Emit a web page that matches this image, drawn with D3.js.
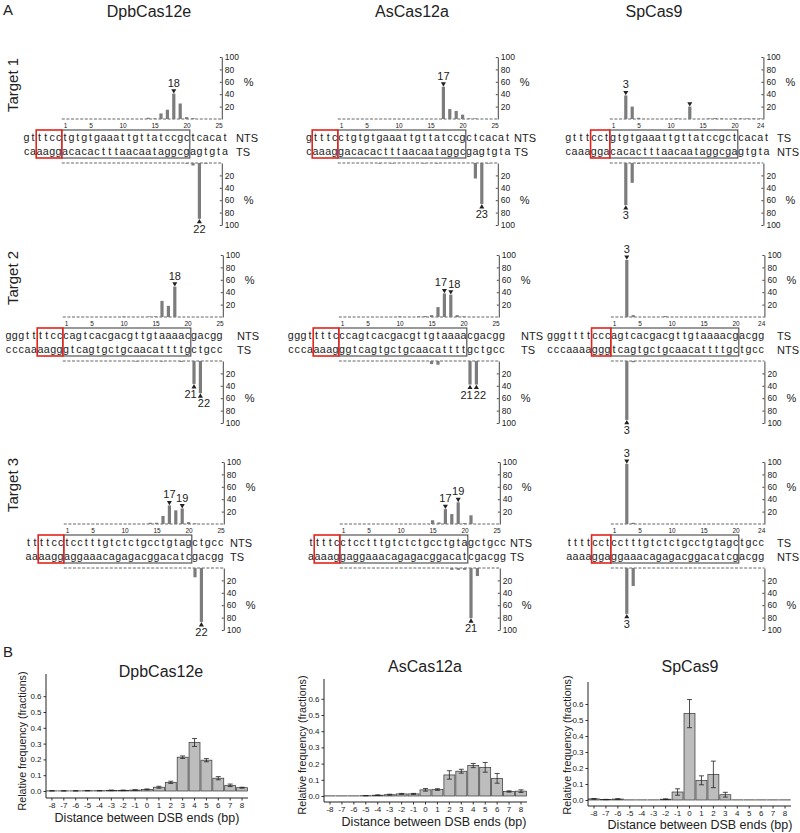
<!DOCTYPE html>
<html>
<head>
<meta charset="utf-8">
<script src="https://cdn.jsdelivr.net/npm/d3@7"></script>
<style>
  body { margin: 0; background: #fff; }
  svg { display: block; }
  text { font-family: Arial, "Liberation Sans", sans-serif; fill: #222; }
</style>
</head>
<body>
<svg id="fig" width="800" height="833"></svg>
<script>
// ---------------- DATA ----------------
const enzymes = ["DpbCas12e", "AsCas12a", "SpCas9"];
const targets = ["Target 1", "Target 2", "Target 3"];

// top strand of each target (bottom strand = complement)
const seqT1 = "gtttcctgtgtgaaattgttatccgctcacat";
const seqT2 = "gggttttcccagtcacgacgttgtaaaacgacgg";
const seqT3 = "ttttcctcctttgtctctgcctgtagctgcc";
// index in the string of protospacer position 1, per target x enzyme
const spacerStart = [[6, 5, 7], [9, 8, 10], [6, 5, 7]];
const pamLen = [4, 4, 3];
const axisMax = [25, 25, 24];
const axisTicks = [[1, 5, 10, 15, 20, 25], [1, 5, 10, 15, 20, 25], [1, 5, 10, 15, 20, 24]];
const strandLabels = [["NTS", "TS"], ["NTS", "TS"], ["TS", "NTS"]];
const pctTicks = [20, 40, 60, 80, 100];

// cleavage frequency (%) at each position [position, %]
const t1DpbTop = [[14, 2], [15, 1], [16, 9], [17, 15], [18, 41], [19, 25], [20, 3], [21, 1.5]];
const t1DpbBot = [[20, 1], [21, 4], [22, 90], [23, 1.5]];
const t1AsTop = [[17, 52], [18, 16], [19, 13], [20, 7], [21, 1], [22, 1]];
const t1AsBot = [[7, 1], [9, 1], [14, 1], [16, 1], [22, 25], [23, 66], [24, 1]];
const t1SpTop = [[3, 38], [4, 20], [5, 2], [11, 1], [13, 20], [16, 1], [17, 1.5], [18, 1], [20, 1], [21, 1], [22, 1], [23, 1], [24, 1]];
const t1SpBot = [[3, 68], [4, 32], [5, 1.5]];
const t2DpbTop = [[10, 0.8], [14, 0.8], [15, 1], [16, 26], [17, 18], [18, 49]];
const t2DpbBot = [[12, 1], [16, 1], [19, 1.5], [21, 37], [22, 52]];
const t2AsTop = [[10, 1], [13, 1], [14, 1.5], [15, 3], [16, 16], [17, 38], [18, 36], [19, 3], [20, 1]];
const t2AsBot = [[15, 5], [16, 6], [21, 38], [22, 38]];
const t2SpTop = [[3, 92], [4, 3], [9, 1.5]];
const t2SpBot = [[3, 95], [4, 2]];
const t3DpbTop = [[14, 2], [15, 2], [16, 13], [17, 30], [18, 22], [19, 25], [20, 3], [21, 1]];
const t3DpbBot = [[21, 15], [22, 87]];
const t3AsTop = [[15, 6], [16, 2.5], [17, 24], [18, 16], [19, 35], [20, 1.5], [21, 14]];
const t3AsBot = [[18, 3], [19, 3], [20, 3], [21, 81], [22, 13]];
const t3SpTop = [[3, 97], [4, 2]];
const t3SpBot = [[3, 74], [4, 29]];

// B: distance between DSB ends
const dist = [-8, -7, -6, -5, -4, -3, -2, -1, 0, 1, 2, 3, 4, 5, 6, 7, 8];
const dpbFreq = [0.001, 0.001, 0.001, 0.002, 0.002, 0.004, 0.004, 0.006, 0.01, 0.024, 0.055, 0.214, 0.307, 0.195, 0.081, 0.036, 0.021];
const dpbErr  = [0.001, 0.001, 0.001, 0.001, 0.001, 0.002, 0.002, 0.002, 0.003, 0.006, 0.007, 0.008, 0.025, 0.01, 0.01, 0.008, 0.003];
const asFreq  = [0.001, 0.001, 0.001, 0.002, 0.005, 0.008, 0.013, 0.013, 0.038, 0.04, 0.13, 0.153, 0.188, 0.177, 0.109, 0.028, 0.03];
const asErr   = [0, 0, 0, 0.001, 0.002, 0.003, 0.003, 0.003, 0.008, 0.005, 0.026, 0.012, 0.013, 0.03, 0.03, 0.004, 0.008];
const spFreq  = [0.007, 0.003, 0.006, 0.001, 0.001, 0.001, 0.005, 0.05, 0.54, 0.123, 0.16, 0.033, 0.001, 0.001, 0.001, 0.001, 0.001];
const spErr   = [0.002, 0.001, 0.002, 0, 0, 0, 0.002, 0.02, 0.088, 0.028, 0.083, 0.015, 0, 0, 0, 0, 0];
const freqTicks = [0, 0.1, 0.2, 0.3, 0.4, 0.5, 0.6];

// ---------------- PANEL TABLE ----------------
const seqs = [seqT1, seqT2, seqT3];
const panelsA = [
  { row: 0, col: 0, top: t1DpbTop, bot: t1DpbBot, topMark: [[18, "18"]], botMark: [[22, "22"]] },
  { row: 0, col: 1, top: t1AsTop, bot: t1AsBot, topMark: [[17, "17"]], botMark: [[23, "23"]] },
  { row: 0, col: 2, top: t1SpTop, bot: t1SpBot, topMark: [[3, "3"], [13, ""]], botMark: [[3, "3"]] },
  { row: 1, col: 0, top: t2DpbTop, bot: t2DpbBot, topMark: [[18, "18"]], botMark: [[21, "21"], [22, "22"]] },
  { row: 1, col: 1, top: t2AsTop, bot: t2AsBot, topMark: [[17, "17"], [18, "18"]], botMark: [[21, "21"], [22, "22"]] },
  { row: 1, col: 2, top: t2SpTop, bot: t2SpBot, topMark: [[3, "3"]], botMark: [[3, "3"]] },
  { row: 2, col: 0, top: t3DpbTop, bot: t3DpbBot, topMark: [[17, "17"], [19, "19"]], botMark: [[22, "22"]] },
  { row: 2, col: 1, top: t3AsTop, bot: t3AsBot, topMark: [[17, "17"], [19, "19"]], botMark: [[21, "21"]] },
  { row: 2, col: 2, top: t3SpTop, bot: t3SpBot, topMark: [[3, "3"]], botMark: [[3, "3"]] }
];

// ---------------- LAYOUT ----------------
const svg = d3.select("#fig");
const charW = 6.4;          // width of one nucleotide
const pctH = 62;            // pixel height of 100 %
const pos1X = [[65, 341, 613], [66, 342, 614], [67, 343, 614]];
const rowBase = [119, 317, 524];
const strandLabelX = [[236, 514, 777], [237, 521, 777], [230, 510, 777]];
const comp = { a: "t", t: "a", g: "c", c: "g" };
const barCol = "#7c7c7c";

svg.append("text").attr("x", 3).attr("y", 15).attr("font-size", 15).text("A");
enzymes.forEach((e, i) => {
  svg.append("text").attr("x", [149, 412, 654][i]).attr("y", 17)
    .attr("text-anchor", "middle").attr("font-size", 16).text(e);
});
targets.forEach((t, i) => {
  svg.append("text").attr("transform", `translate(18,${[85, 278, 485][i]}) rotate(-90)`)
    .attr("text-anchor", "middle").attr("font-size", 15).text(t);
});

const triDown = d3.symbol(d3.symbolTriangle, 11);

panelsA.forEach(p => {
  const r = p.row, c = p.col;
  const base = rowBase[r];
  const botBase = base + 44;
  const x = d3.scaleLinear().domain([1, 2]).range([pos1X[r][c], pos1X[r][c] + charW]);
  const yTop = d3.scaleLinear().domain([0, 100]).range([base, base - pctH]);
  const yBot = d3.scaleLinear().domain([0, 100]).range([botBase, botBase + pctH]);
  const xmax = axisMax[c];
  const g = svg.append("g");

  // dashed baselines
  [base, botBase].forEach(b => {
    g.append("line").attr("x1", x(0.5)).attr("x2", x(xmax + 0.5)).attr("y1", b).attr("y2", b)
      .attr("stroke", "#666").attr("stroke-width", 1).attr("stroke-dasharray", "3,1.6");
  });

  // position labels under the top baseline
  const ax = g.append("g").attr("transform", `translate(0,${base})`)
    .call(d3.axisBottom(x).tickValues(axisTicks[c]).tickSize(0).tickPadding(4).tickFormat(d3.format("d")));
  ax.select(".domain").remove();
  ax.selectAll("text").attr("font-size", 6.5).attr("fill", "#333").attr("font-family", "Arial, Liberation Sans, sans-serif");

  // right % axes
  [[yTop, d3.axisRight(yTop)], [yBot, d3.axisRight(yBot)]].forEach(([sc, axis]) => {
    const a = g.append("g").attr("transform", `translate(${x(xmax + 0.5)},0)`)
      .call(axis.tickValues(pctTicks).tickSize(-2).tickSizeOuter(0).tickPadding(3));
    a.selectAll("path,line").attr("stroke", "#444");
    a.selectAll("text").attr("font-size", 8.5).attr("fill", "#333").attr("font-family", "Arial, Liberation Sans, sans-serif");
    g.append("text").attr("x", x(xmax + 0.5) + 22).attr("y", sc(60) + 4)
      .attr("font-size", 11).text("%");
  });

  // bars
  g.selectAll(".tb").data(p.top).enter().append("rect")
    .attr("x", d => x(d[0]) - 1.6).attr("width", 3.2)
    .attr("y", d => yTop(d[1])).attr("height", d => base - yTop(d[1]))
    .attr("fill", barCol);
  g.selectAll(".bb").data(p.bot).enter().append("rect")
    .attr("x", d => x(d[0]) - 1.6).attr("width", 3.2)
    .attr("y", botBase).attr("height", d => yBot(d[1]) - botBase)
    .attr("fill", barCol);

  // peak markers
  const shift = (m, list) => {
    const pos = list.map(q => q[0]);
    if (pos.includes(m - 1)) return 3.5;
    if (pos.includes(m + 1)) return -3.5;
    return 0;
  };
  p.topMark.forEach(m => {
    const v = p.top.find(d => d[0] === m[0])[1];
    g.append("path").attr("d", triDown)
      .attr("transform", `translate(${x(m[0])},${yTop(v) - 3}) rotate(180)`).attr("fill", "#222");
    if (m[1]) g.append("text").attr("x", x(m[0]) + shift(m[0], p.topMark)).attr("y", yTop(v) - 7)
      .attr("text-anchor", "middle").attr("font-size", 11).text(m[1]);
  });
  p.botMark.forEach(m => {
    const v = p.bot.find(d => d[0] === m[0])[1];
    g.append("path").attr("d", triDown)
      .attr("transform", `translate(${x(m[0])},${yBot(v) + 3})`).attr("fill", "#222");
    if (m[1]) g.append("text").attr("x", x(m[0]) + shift(m[0], p.botMark)).attr("y", yBot(v) + 14)
      .attr("text-anchor", "middle").attr("font-size", 11).text(m[1]);
  });

  // sequences
  const s = seqs[r];
  const i1 = spacerStart[r][c];
  const chars = s.split("").map((ch, i) => ({ ch, pos: i - i1 + 1 }));
  [[base + 22, d => d.ch], [base + 36, d => comp[d.ch]]].forEach(([yy, f]) => {
    g.selectAll(null).data(chars).enter().append("text")
      .attr("x", d => x(d.pos)).attr("y", yy).attr("text-anchor", "middle")
      .attr("font-family", "'Liberation Mono','Courier New',monospace")
      .attr("font-size", 10.7).attr("fill", "#333").text(f);
  });

  // protospacer and PAM boxes
  g.append("rect").attr("x", x(0.5)).attr("y", base + 11).attr("width", x(20.5) - x(0.5)).attr("height", 28)
    .attr("fill", "none").attr("stroke", "#555").attr("stroke-width", 1.2);
  g.append("rect").attr("x", x(0.5 - pamLen[c])).attr("y", base + 11).attr("width", x(0.5) - x(0.5 - pamLen[c])).attr("height", 28)
    .attr("fill", "none").attr("stroke", "#e3241b").attr("stroke-width", 1.6);

  // strand labels
  g.append("text").attr("x", strandLabelX[r][c]).attr("y", base + 23).attr("font-size", 11).text(strandLabels[c][0]);
  g.append("text").attr("x", strandLabelX[r][c]).attr("y", base + 37).attr("font-size", 11).text(strandLabels[c][1]);
});

// ---------------- PANEL B ----------------
svg.append("text").attr("x", 3).attr("y", 657).attr("font-size", 15).text("B");

const panelsB = [
  { name: enzymes[0], freq: dpbFreq, err: dpbErr, left: 46, right: 248, y0: 791, unit: 158, axisY: 798, top: 674, tx: 161, ty: 677, ytx: 26, yty: 741, xtx: 147, xty: 822 },
  { name: enzymes[1], freq: asFreq, err: asErr, left: 324, right: 527, y0: 796, unit: 162, axisY: 802, top: 679, tx: 425, ty: 672, ytx: 306, yty: 745, xtx: 434, xty: 826 },
  { name: enzymes[2], freq: spFreq, err: spErr, left: 588, right: 791, y0: 800, unit: 160, axisY: 806, top: 682, tx: 690, ty: 672, ytx: 571, yty: 745, xtx: 700, xty: 829 }
];

panelsB.forEach(b => {
  const g = svg.append("g");
  const x = d3.scaleBand().domain(dist).range([b.left, b.right]).paddingInner(0.08).paddingOuter(0.04);
  const y = d3.scaleLinear().domain([0, 0.6]).range([b.y0, b.y0 - 0.6 * b.unit]);
  const rows = dist.map((d, i) => ({ d, v: b.freq[i], e: b.err[i] }));

  g.selectAll("rect").data(rows).enter().append("rect")
    .attr("x", r => x(r.d)).attr("width", x.bandwidth())
    .attr("y", r => y(r.v)).attr("height", r => b.y0 - y(r.v))
    .attr("fill", "#bdbdbd").attr("stroke", "#333").attr("stroke-width", 0.7);

  const eb = g.selectAll(".eb").data(rows.filter(r => r.e > 0)).enter().append("g");
  const cx = r => x(r.d) + x.bandwidth() / 2;
  eb.append("line").attr("x1", cx).attr("x2", cx).attr("y1", r => y(r.v - r.e)).attr("y2", r => y(r.v + r.e));
  eb.append("line").attr("x1", r => cx(r) - 2.5).attr("x2", r => cx(r) + 2.5).attr("y1", r => y(r.v - r.e)).attr("y2", r => y(r.v - r.e));
  eb.append("line").attr("x1", r => cx(r) - 2.5).attr("x2", r => cx(r) + 2.5).attr("y1", r => y(r.v + r.e)).attr("y2", r => y(r.v + r.e));
  eb.selectAll("line").attr("stroke", "#222").attr("stroke-width", 0.8);

  // axes
  const ya = g.append("g").attr("transform", `translate(${b.left},0)`)
    .call(d3.axisLeft(y).tickValues(freqTicks).tickFormat(d3.format(".1f")).tickSize(2.5).tickPadding(2));
  ya.select(".domain").remove();
  const xa = g.append("g").attr("transform", `translate(0,${b.axisY})`)
    .call(d3.axisBottom(x).tickSize(2.5).tickPadding(1.5));
  xa.select(".domain").remove();
  [ya, xa].forEach(a => {
    a.selectAll("line").attr("stroke", "#333");
    a.selectAll("text").attr("font-size", 8).attr("fill", "#4d4d4d").attr("font-family", "Arial, Liberation Sans, sans-serif");
  });
  g.append("line").attr("x1", b.left).attr("x2", b.left).attr("y1", b.top).attr("y2", b.axisY).attr("stroke", "#222");
  g.append("line").attr("x1", b.left).attr("x2", b.right).attr("y1", b.axisY).attr("y2", b.axisY).attr("stroke", "#222");

  g.append("text").attr("x", b.tx).attr("y", b.ty).attr("text-anchor", "middle").attr("font-size", 16).text(b.name);
  g.append("text").attr("transform", `translate(${b.ytx},${b.yty}) rotate(-90)`).attr("text-anchor", "middle")
    .attr("font-size", 10.7).text("Relative frequency (fractions)");
  g.append("text").attr("x", b.xtx).attr("y", b.xty).attr("text-anchor", "middle").attr("font-size", 12.5)
    .text("Distance between DSB ends (bp)");
});
</script>
</body>
</html>
